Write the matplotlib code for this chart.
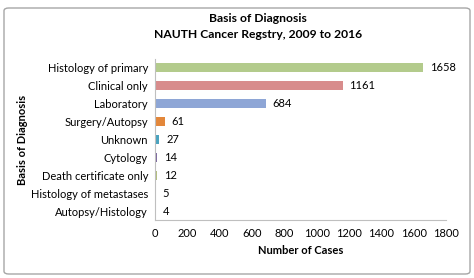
import matplotlib
matplotlib.use("Agg")
import matplotlib.pyplot as plt
from matplotlib.patches import FancyBboxPatch

categories = ["Histology of primary", "Clinical only", "Laboratory", "Surgery/Autopsy",
              "Unknown", "Cytology", "Death certificate only", "Histology of metastases",
              "Autopsy/Histology"]
values = [1658, 1161, 684, 61, 27, 14, 12, 5, 4]
colors = ["#b3cb8c", "#d88c8c", "#8ea6d6", "#e3873a", "#4aa3bf", "#7d69a0",
          "#b4c07e", "#9aa4b4", "#a0a0a0"]
xticks = [0, 200, 400, 600, 800, 1000, 1200, 1400, 1600, 1800]

plt.rcParams['font.family'] = ['Lato', 'DejaVu Sans']
fig = plt.figure(figsize=(4.74, 2.78), dpi=100)
ax = fig.add_axes([155/474, 1-220/278, (446-155)/474, (220-59)/278])

y = list(range(len(categories)))
ax.barh(y, values, color=colors, height=0.5)
ax.set_ylim(len(categories)-0.5, -0.5)
ax.set_xlim(0, 1800)
ax.set_yticks(y)
ax.set_yticklabels(categories, fontsize=8)
ax.set_xticks(xticks)
ax.set_xticklabels([str(t) for t in xticks], fontsize=8)
ax.tick_params(length=0, pad=6)
ax.tick_params(axis='y', pad=5)
for s in ['top', 'right']:
    ax.spines[s].set_visible(False)
for s in ['left', 'bottom']:
    ax.spines[s].set_color('#bfbfbf')
    ax.spines[s].set_linewidth(0.8)
for yi, v in zip(y, values):
    ax.text(v + 42, yi, str(v), va='center', ha='left', fontsize=8)

ax.set_xlabel("Number of Cases", fontsize=8, fontweight='bold', labelpad=4)
ax.set_ylabel("Basis of Diagnosis", fontsize=8, fontweight='bold')
ax.yaxis.set_label_coords(-(155-28)/291, 0.5)

fig.text(258/474, 1-18/278, "Basis of Diagnosis", ha='center', va='center',
         fontsize=8.7, fontweight='bold')
fig.text(258/474, 1-35/278, "NAUTH Cancer Regstry, 2009 to 2016", ha='center', va='center',
         fontsize=8.7, fontweight='bold')

border = FancyBboxPatch((4/474, 4/278), 466/474, 266/278,
                        boxstyle="round,pad=0,rounding_size=0.01",
                        transform=fig.transFigure, fill=False,
                        edgecolor='#a6a6a6', linewidth=1.0)
fig.patches.append(border)

fig.savefig("out.png", dpi=100)
